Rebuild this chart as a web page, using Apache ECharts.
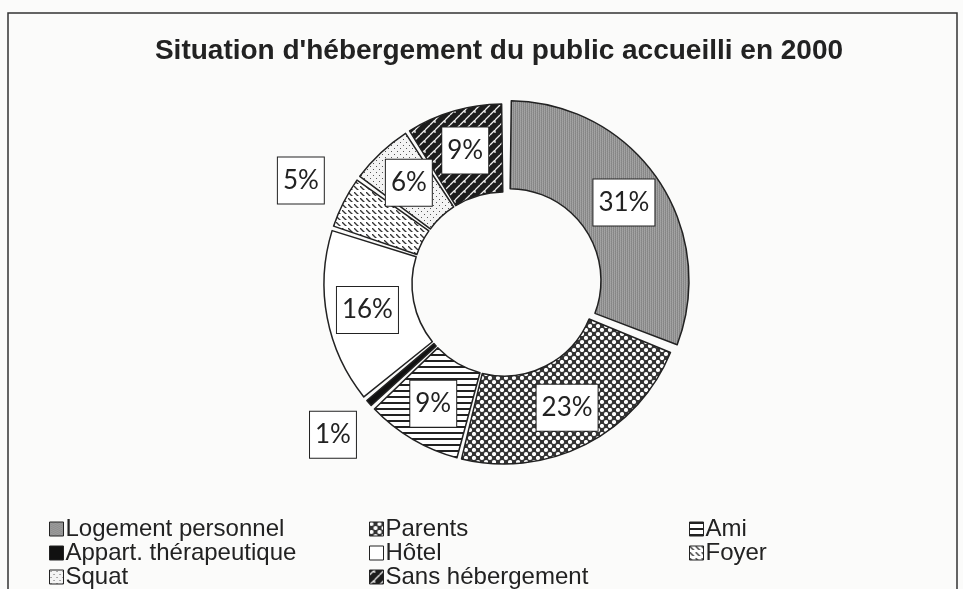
<!DOCTYPE html>
<html>
<head>
<meta charset="utf-8">
<script src="https://cdn.jsdelivr.net/npm/echarts@6/dist/echarts.min.js"></script>
<style>
  html, body { margin: 0; padding: 0; background: #fbfbfa; }
  #main { width: 963px; height: 589px; }
</style>
</head>
<body>
<div id="main"></div>
<script>
var categories = ['Logement personnel', 'Parents', 'Ami', 'Appart. thérapeutique',
                  'Hôtel', 'Foyer', 'Squat', 'Sans hébergement'];
var values = [31, 23, 9, 1, 16, 5, 6, 9];
// these two have their box outside the ring
var outsideLabels = ['Foyer', 'Appart. thérapeutique'];

// legend cells: 3 columns, read row by row
var legendLeft = [44, 364, 684];
var legendRowY = [525, 549, 573];

function makePattern(w, h, draw) {
  var c = document.createElement('canvas');
  c.width = w; c.height = h;
  var ctx = c.getContext('2d');
  draw(ctx, w, h);
  return { image: c, repeat: 'repeat' };
}

var patterns = {
  'Logement personnel': makePattern(4, 4, function (ctx) {
    var g = ['#8e8e8e', '#a8a8a8', '#828282', '#9c9c9c'];
    for (var i = 0; i < 4; i++) for (var j = 0; j < 4; j++) {
      ctx.fillStyle = g[(i * 3 + j * 2) % 4];
      ctx.fillRect(i, j, 1, 1);
    }
  }),
  'Parents': makePattern(8, 8, function (ctx) {
    ctx.fillStyle = '#333'; ctx.fillRect(0, 0, 8, 8);
    ctx.fillStyle = '#fff';
    ctx.beginPath(); ctx.arc(2, 2, 2.1, 0, Math.PI * 2); ctx.fill();
    ctx.beginPath(); ctx.arc(6, 6, 2.1, 0, Math.PI * 2); ctx.fill();
  }),
  'Ami': makePattern(6, 6, function (ctx) {
    ctx.fillStyle = '#fff'; ctx.fillRect(0, 0, 6, 6);
    ctx.fillStyle = '#222'; ctx.fillRect(0, 0, 6, 2);
  }),
  'Appart. thérapeutique': '#111',
  'Hôtel': '#ffffff',
  'Foyer': makePattern(6, 6, function (ctx) {
    ctx.fillStyle = '#fff'; ctx.fillRect(0, 0, 6, 6);
    ctx.strokeStyle = '#333'; ctx.lineWidth = 1.3;
    ctx.beginPath(); ctx.moveTo(0, 0); ctx.lineTo(6, 6); ctx.stroke();
    ctx.fillStyle = '#fff'; ctx.fillRect(0, 4, 6, 2);
  }),
  'Squat': makePattern(6, 6, function (ctx) {
    ctx.fillStyle = '#f4f4f4'; ctx.fillRect(0, 0, 6, 6);
    ctx.fillStyle = '#555';
    ctx.fillRect(1, 1, 1, 1); ctx.fillRect(4, 4, 1, 1);
  }),
  'Sans hébergement': makePattern(10, 10, function (ctx) {
    ctx.fillStyle = '#1c1c1c'; ctx.fillRect(0, 0, 10, 10);
    ctx.strokeStyle = '#eee'; ctx.lineWidth = 1.3;
    ctx.beginPath();
    ctx.moveTo(0, 5); ctx.lineTo(5, 0);
    ctx.moveTo(5, 10); ctx.lineTo(10, 5);
    ctx.moveTo(5, 0); ctx.lineTo(5, 3);
    ctx.stroke();
  })
};

var labelBox = {
  formatter: function (p) { return p.value + '%'; },
  fontFamily: 'Lato, sans-serif',
  fontSize: 26,
  color: '#222',
  backgroundColor: '#fff',
  borderColor: '#222',
  borderWidth: 1,
  padding: [11, 5, 9, 5]
};

var ringData = categories.map(function (name, i) {
  var inside = outsideLabels.indexOf(name) < 0;
  return {
    name: name,
    value: values[i],
    selected: i === 0,
    itemStyle: { color: patterns[name] },
    label: { show: inside }
  };
});

// transparent wider ring that only carries the outside labels
var outerLabelData = categories.map(function (name, i) {
  return {
    name: name,
    value: values[i],
    label: { show: outsideLabels.indexOf(name) >= 0 }
  };
});

var legends = [];
categories.forEach(function (name, i) {
  legends.push({
    left: legendLeft[i % 3],
    top: legendRowY[Math.floor(i / 3)] - 13,
    data: [name],
    icon: 'rect',
    itemWidth: 14,
    itemHeight: 14,
    selectedMode: false,
    itemStyle: { borderColor: '#222', borderWidth: 1 },
    textStyle: { fontFamily: 'Liberation Sans, sans-serif', fontSize: 24, color: '#222', padding: [0, 0, 0, -3] }
  });
});

var myChart = echarts.init(document.getElementById('main'));
var option = {
  backgroundColor: '#fbfbfa',
  animation: false,
  title: {
    text: "Situation d'hébergement du public accueilli en 2000",
    left: 494,
    textAlign: 'center',
    top: 32,
    textStyle: { fontFamily: 'Liberation Sans, sans-serif', fontSize: 28, fontWeight: 'bold', color: '#222' }
  },
  legend: legends,
  graphic: [{
    type: 'polyline',
    shape: { points: [[8, 600], [8, 13], [957, 13], [957, 600]] },
    style: { stroke: '#333', lineWidth: 1.5, fill: null }
  }],
  series: [{
    type: 'pie',
    center: [504, 284],
    radius: [92, 180],
    startAngle: 90,
    padAngle: 1.5,
    selectedMode: 'single',
    selectedOffset: 6,
    avoidLabelOverlap: false,
    itemStyle: { borderColor: '#222', borderWidth: 1.5 },
    select: { itemStyle: { borderColor: '#222', borderWidth: 1.5 } },
    label: Object.assign({ position: 'inside' }, labelBox),
    labelLine: { show: false },
    data: ringData
  }, {
    type: 'pie',
    center: [504, 284],
    radius: [92, 358],
    startAngle: 90,
    silent: true,
    z: 3,
    avoidLabelOverlap: false,
    itemStyle: { color: 'rgba(0,0,0,0)', borderWidth: 0 },
    label: Object.assign({ position: 'inside' }, labelBox),
    labelLine: { show: false },
    data: outerLabelData
  }]
};
myChart.setOption(option);
</script>
</body>
</html>
